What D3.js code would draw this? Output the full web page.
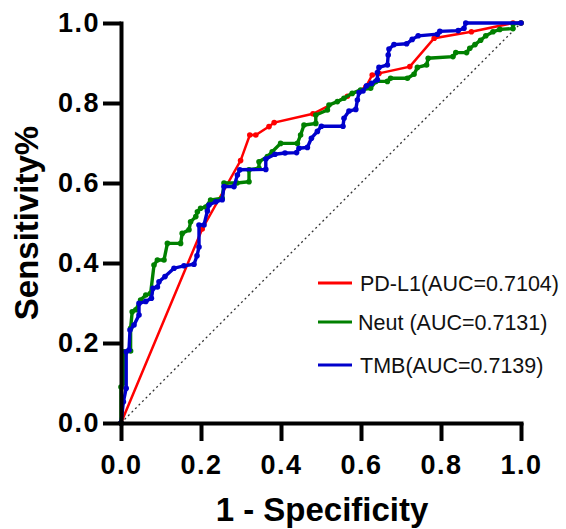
<!DOCTYPE html>
<html>
<head>
<meta charset="utf-8">
<title>ROC curves</title>
<script src="https://cdnjs.cloudflare.com/ajax/libs/d3/7.8.5/d3.min.js"></script>
<style>
body { margin: 0; background: #fff; }
text { font-family: "Liberation Sans", Arial, sans-serif; }
.axis path, .axis line { stroke: #000; stroke-width: 4; }
.axis text { font-size: 27px; font-weight: bold; letter-spacing: 1.5px; fill: #000; }
.title { font-size: 33px; font-weight: bold; }
.legend text { font-size: 21.5px; fill: #111; }
</style>
</head>
<body>
<svg id="chart" width="566" height="529"></svg>
<script>
// 1 - specificity (x) and sensitivity (y) for each marker
var pdl1X = [0, 0.203, 0.299, 0.322, 0.337, 0.37, 0.383, 0.48, 0.566, 0.612, 0.628, 0.645, 0.722, 0.783, 0.876, 0.98, 1];
var pdl1Y = [0, 0.485, 0.656, 0.72, 0.72, 0.741, 0.751, 0.773, 0.817, 0.84, 0.87, 0.874, 0.891, 0.962, 0.978, 1, 1];

var neutX = [0, 0, 0.0075, 0.0075, 0.024, 0.024, 0.028, 0.037, 0.049, 0.062, 0.074, 0.0825, 0.091, 0.1075, 0.116, 0.149, 0.153, 0.17, 0.174, 0.187, 0.191, 0.199, 0.212, 0.224, 0.253, 0.2575, 0.29, 0.32, 0.32, 0.345, 0.345, 0.366, 0.378, 0.399, 0.441, 0.449, 0.4575, 0.487, 0.487, 0.516, 0.52, 0.541, 0.5575, 0.578, 0.599, 0.624, 0.637, 0.666, 0.674, 0.716, 0.7325, 0.741, 0.764, 0.768, 0.83, 0.837, 0.864, 0.872, 0.885, 0.899, 0.912, 0.93, 0.947, 0.98, 0.98, 1];
var neutY = [0, 0.09, 0.1, 0.178, 0.18, 0.237, 0.278, 0.283, 0.3075, 0.32, 0.324, 0.395, 0.4075, 0.4075, 0.449, 0.449, 0.474, 0.483, 0.503, 0.516, 0.528, 0.537, 0.54, 0.5575, 0.562, 0.6, 0.6, 0.603, 0.633, 0.637, 0.653, 0.666, 0.678, 0.699, 0.699, 0.72, 0.745, 0.749, 0.77, 0.7825, 0.795, 0.8035, 0.812, 0.824, 0.8325, 0.837, 0.854, 0.854, 0.862, 0.862, 0.872, 0.889, 0.895, 0.912, 0.916, 0.926, 0.926, 0.937, 0.946, 0.957, 0.968, 0.978, 0.984, 0.986, 0.998, 1];

var tmbX = [0, 0.006, 0.013, 0.013, 0.02, 0.0225, 0.0325, 0.045, 0.045, 0.062, 0.076, 0.08, 0.091, 0.095, 0.11, 0.1325, 0.1575, 0.1825, 0.19, 0.195, 0.195, 0.2075, 0.216, 0.22, 0.237, 0.253, 0.2575, 0.2825, 0.291, 0.297, 0.362, 0.362, 0.385, 0.41, 0.439, 0.445, 0.466, 0.476, 0.491, 0.501, 0.555, 0.5575, 0.57, 0.587, 0.591, 0.595, 0.605, 0.614, 0.626, 0.641, 0.641, 0.645, 0.666, 0.668, 0.67, 0.6825, 0.714, 0.728, 0.743, 0.791, 0.797, 0.843, 0.8575, 0.862, 1];
var tmbY = [0, 0.053, 0.087, 0.178, 0.1825, 0.2325, 0.245, 0.27, 0.299, 0.304, 0.312, 0.337, 0.34, 0.353, 0.366, 0.387, 0.393, 0.397, 0.418, 0.44, 0.495, 0.495, 0.53, 0.545, 0.553, 0.558, 0.591, 0.591, 0.62, 0.633, 0.634, 0.66, 0.672, 0.675, 0.676, 0.687, 0.689, 0.712, 0.729, 0.742, 0.742, 0.762, 0.78, 0.784, 0.8075, 0.826, 0.83, 0.843, 0.849, 0.858, 0.876, 0.889, 0.895, 0.92, 0.935, 0.946, 0.948, 0.959, 0.968, 0.972, 0.979, 0.981, 0.987, 1, 1];

var seriesNames = ["PD-L1(AUC=0.7104)", "Neut (AUC=0.7131)", "TMB(AUC=0.7139)"];
var seriesColors = ["#ff0000", "#008000", "#0000cc"];
var seriesWidths = [2.5, 3.4, 3.4];
var ticks = [0, 0.2, 0.4, 0.6, 0.8, 1.0];

var svg = d3.select("#chart");

var x = d3.scaleLinear().domain([0, 1]).range([121, 521]);
var y = d3.scaleLinear().domain([0, 1]).range([423, 23]);

function zip(xs, ys) {
  return xs.map(function(v, i) { return [v, ys[i]]; });
}

var series = [zip(pdl1X, pdl1Y), zip(neutX, neutY), zip(tmbX, tmbY)];

// reference diagonal
svg.append("line")
  .attr("x1", x(0)).attr("y1", y(0))
  .attr("x2", x(1)).attr("y2", y(1))
  .attr("stroke", "#333")
  .attr("stroke-width", 1.3)
  .attr("stroke-dasharray", "2,3");

var line = d3.line()
  .x(function(d) { return x(d[0]); })
  .y(function(d) { return y(d[1]); });

series.forEach(function(pts, i) {
  var g = svg.append("g");
  g.append("path")
    .attr("d", line(pts))
    .attr("fill", "none")
    .attr("stroke", seriesColors[i])
    .attr("stroke-width", seriesWidths[i]);
  g.selectAll("circle")
    .data(pts)
    .enter().append("circle")
    .attr("cx", function(d) { return x(d[0]); })
    .attr("cy", function(d) { return y(d[1]); })
    .attr("r", 2.8)
    .attr("fill", seriesColors[i]);
});

// axes
svg.append("g")
  .attr("class", "axis")
  .attr("transform", "translate(0," + y(0) + ")")
  .call(d3.axisBottom(x).tickValues(ticks).tickFormat(d3.format(".1f")).tickSize(18).tickSizeOuter(0).tickPadding(14));

svg.append("g")
  .attr("class", "axis")
  .attr("transform", "translate(" + x(0) + ",0)")
  .call(d3.axisLeft(y).tickValues(ticks).tickFormat(d3.format(".1f")).tickSize(18).tickSizeOuter(0).tickPadding(3));

svg.selectAll(".axis path").attr("stroke-linecap", "square");

svg.append("text")
  .attr("class", "title")
  .attr("x", 322)
  .attr("y", 521)
  .attr("text-anchor", "middle")
  .text("1 - Specificity");

svg.append("text")
  .attr("class", "title")
  .attr("transform", "translate(38,223) rotate(-90)")
  .attr("text-anchor", "middle")
  .text("Sensitivity%");

// legend
var legendY = [283, 322, 365];
var legend = svg.append("g").attr("class", "legend");
seriesNames.forEach(function(name, i) {
  legend.append("line")
    .attr("x1", 318).attr("x2", 352)
    .attr("y1", legendY[i]).attr("y2", legendY[i])
    .attr("stroke", seriesColors[i])
    .attr("stroke-width", 3);
  legend.append("text")
    .attr("x", i === 1 ? 358 : 360)
    .attr("y", legendY[i])
    .attr("dy", "0.36em")
    .text(name);
});
</script>
</body>
</html>
